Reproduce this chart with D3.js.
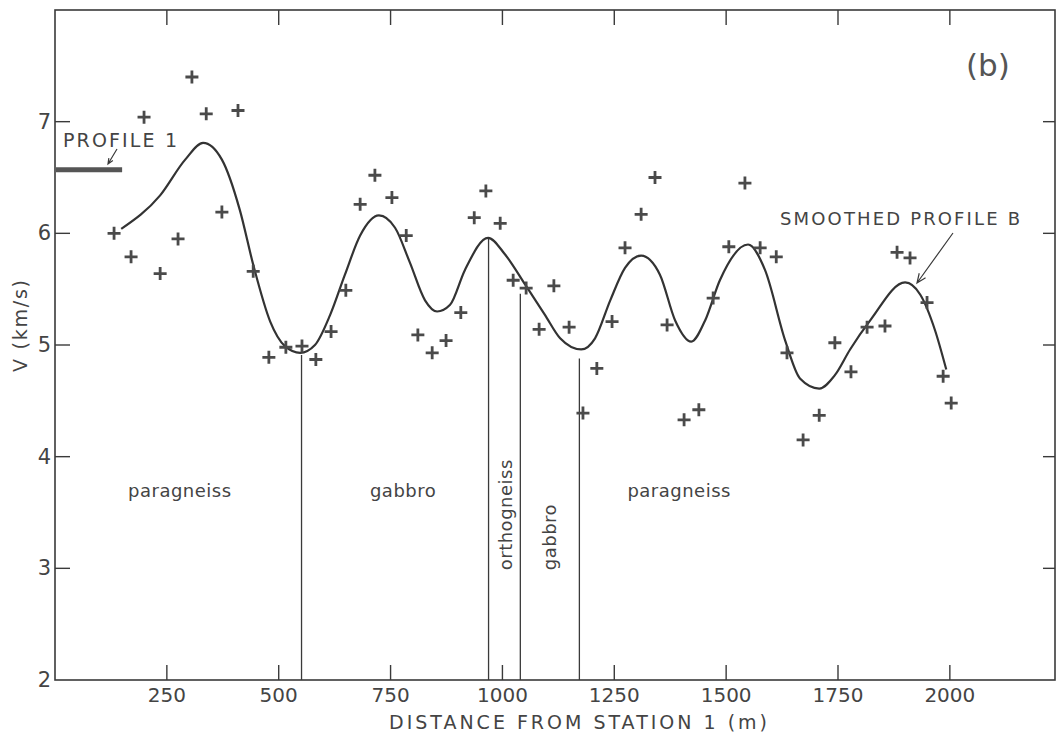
<!DOCTYPE html>
<html lang="en">
<head>
  <meta charset="UTF-8">
  <title>Velocity profile B</title>
  <style>
    body { margin: 0; background: #fff; }
    text { font-family: "DejaVu Sans", sans-serif; fill: #444; }
  </style>
</head>
<body>
  <svg id="svg" width="1057" height="741"></svg>

  <script src="https://d3js.org/d3.v7.min.js"></script>
  <script>
    // measured velocities (distance m, V km/s)
    const obsDist = [132, 170, 235, 275, 306, 199, 338, 409, 373, 443, 478, 516, 552, 583, 617, 650,
      682, 715, 753, 785, 811, 843, 874, 907, 937, 963, 995, 1024, 1053, 1082, 1115, 1149,
      1180, 1211, 1245, 1274, 1310, 1341, 1368, 1406, 1439, 1471, 1506, 1542, 1576, 1612,
      1636, 1672, 1708, 1743, 1779, 1815, 1855, 1882, 1911, 1949, 1985, 2003]
    const obsV = [6.00, 5.79, 5.64, 5.95, 7.40, 7.04, 7.07, 7.10, 6.19, 5.66, 4.89, 4.98, 4.99, 4.87, 5.12, 5.49,
      6.26, 6.52, 6.32, 5.98, 5.09, 4.93, 5.04, 5.29, 6.14, 6.38, 6.09, 5.58, 5.51, 5.14, 5.53, 5.16,
      4.39, 4.79, 5.21, 5.87, 6.17, 6.50, 5.18, 4.33, 4.42, 5.42, 5.88, 6.45, 5.87, 5.79,
      4.93, 4.15, 4.37, 5.02, 4.76, 5.16, 5.17, 5.83, 5.78, 5.38, 4.72, 4.48]

    // smoothed profile B
    const smoothDist = [148, 235, 291, 331, 373, 413, 443, 481, 514, 548, 581, 615, 648, 682, 724, 760,
      793, 827, 854, 883, 916, 968, 1006, 1051, 1095, 1129, 1176, 1207, 1241, 1274, 1310, 1352,
      1386, 1422, 1453, 1486, 1549, 1587, 1632, 1665, 1708, 1743, 1777, 1822, 1900, 1934, 1967, 1992]
    const smoothV = [6.04, 6.34, 6.66, 6.81, 6.66, 6.21, 5.72, 5.21, 4.99, 4.93, 5.00, 5.27, 5.63, 5.98, 6.16, 6.05,
      5.74, 5.40, 5.30, 5.36, 5.67, 5.96, 5.81, 5.54, 5.27, 5.06, 4.96, 5.06, 5.40, 5.69, 5.80, 5.63,
      5.22, 5.03, 5.22, 5.58, 5.90, 5.67, 5.04, 4.70, 4.61, 4.73, 4.96, 5.22, 5.56, 5.45, 5.13, 4.78]

    // rock unit contacts: distance and where the line starts (V)
    const contactDist = [551, 969, 1040, 1172]
    const contactTop = [4.91, 5.96, 5.46, 4.88]

    const rockNames = ["paragneiss", "gabbro", "orthogneiss", "gabbro", "paragneiss"]
    const rockDist = [279, 778, 1021, 1120, 1395]
    const rockV = [3.64, 3.64, 3.48, 3.28, 3.64]
    const rockVertical = [false, false, true, true, false]

    const profile1Dist = [0, 150]
    const profile1V = 6.57

    const xTicks = [250, 500, 750, 1000, 1250, 1500, 1750, 2000]
    const yTicks = [2, 3, 4, 5, 6, 7]

    const svg = d3.select("#svg")
    const ink = "#3a3a3a"

    const x = d3.scaleLinear().domain([0, 2235]).range([55, 1055])
    const y = d3.scaleLinear().domain([2, 8]).range([680, 10])

    // frame
    svg.append("rect")
      .attr("x", x(0)).attr("y", y(8))
      .attr("width", x(2235) - x(0)).attr("height", y(2) - y(8))
      .attr("fill", "none").attr("stroke", ink).attr("stroke-width", 1.6)

    // inward ticks on all four sides
    const tickLen = 15
    svg.append("g").selectAll("line").data(xTicks).enter().append("line")
      .attr("x1", d => x(d)).attr("x2", d => x(d))
      .attr("y1", y(2)).attr("y2", y(2) - tickLen)
      .attr("stroke", ink).attr("stroke-width", 1.4)
    svg.append("g").selectAll("line").data(xTicks).enter().append("line")
      .attr("x1", d => x(d)).attr("x2", d => x(d))
      .attr("y1", y(8)).attr("y2", y(8) + tickLen)
      .attr("stroke", ink).attr("stroke-width", 1.4)
    svg.append("g").selectAll("line").data(yTicks.slice(1)).enter().append("line")
      .attr("x1", x(0)).attr("x2", x(0) + tickLen)
      .attr("y1", d => y(d)).attr("y2", d => y(d))
      .attr("stroke", ink).attr("stroke-width", 1.4)
    svg.append("g").selectAll("line").data(yTicks.slice(1)).enter().append("line")
      .attr("x1", x(2235)).attr("x2", x(2235) - 12)
      .attr("y1", d => y(d)).attr("y2", d => y(d))
      .attr("stroke", ink).attr("stroke-width", 1.4)

    // tick labels
    svg.append("g").selectAll("text").data(xTicks).enter().append("text")
      .text(d => d)
      .attr("x", d => x(d)).attr("y", 702)
      .attr("text-anchor", "middle")
      .style("font-size", "20px")
    svg.append("g").selectAll("text").data(yTicks).enter().append("text")
      .text(d => d)
      .attr("x", 51).attr("y", d => y(d) + 7)
      .attr("text-anchor", "end")
      .style("font-size", "21px")

    // axis titles
    svg.append("text")
      .text("DISTANCE FROM STATION 1 (m)")
      .attr("x", 578).attr("y", 729)
      .attr("text-anchor", "middle")
      .attr("textLength", 378).attr("lengthAdjust", "spacing")
      .style("font-size", "19px")
    svg.append("text")
      .text("V (km/s)")
      .attr("transform", "translate(27,326) rotate(-90)")
      .attr("text-anchor", "middle")
      .attr("textLength", 92).attr("lengthAdjust", "spacing")
      .style("font-size", "19px")

    // contacts between rock units
    svg.append("g").selectAll("line").data(contactDist).enter().append("line")
      .attr("x1", d => x(d)).attr("x2", d => x(d))
      .attr("y1", (d, i) => y(contactTop[i])).attr("y2", y(2))
      .attr("stroke", ink).attr("stroke-width", 1.3)

    // rock names
    svg.append("g").selectAll("text").data(rockNames).enter().append("text")
      .text(d => d)
      .attr("transform", (d, i) => `translate(${x(rockDist[i])},${y(rockV[i])})` + (rockVertical[i] ? " rotate(-90)" : ""))
      .attr("text-anchor", "middle")
      .style("font-size", "18px")
      .style("letter-spacing", "0.5px")

    // smoothed curve
    const line = d3.line()
      .x(d => x(d[0]))
      .y(d => y(d[1]))
      .curve(d3.curveMonotoneX)
    svg.append("path")
      .attr("d", line(d3.zip(smoothDist, smoothV)))
      .attr("fill", "none")
      .attr("stroke", "#333")
      .attr("stroke-width", 2.2)

    // crosses
    const arm = 6.5
    svg.append("g").selectAll("path").data(d3.zip(obsDist, obsV)).enter().append("path")
      .attr("d", d => {
        const cx = x(d[0]), cy = y(d[1])
        return `M${cx - arm},${cy}H${cx + arm}M${cx},${cy - arm}V${cy + arm}`
      })
      .attr("stroke", "#4a4a4a")
      .attr("stroke-width", 2.8)

    // profile 1 bar
    svg.append("line")
      .attr("x1", x(profile1Dist[0]) + 1).attr("x2", x(profile1Dist[1]))
      .attr("y1", y(profile1V)).attr("y2", y(profile1V))
      .attr("stroke", "#555").attr("stroke-width", 5)
    svg.append("text")
      .text("PROFILE 1")
      .attr("x", 63).attr("y", 147)
      .attr("textLength", 114).attr("lengthAdjust", "spacing")
      .style("font-size", "19px")

    // small arrows
    function arrow(x1, y1, x2, y2, head) {
      const a = Math.atan2(y2 - y1, x2 - x1)
      const p = d3.path()
      p.moveTo(x1, y1); p.lineTo(x2, y2)
      p.moveTo(x2 - head * Math.cos(a - 0.4), y2 - head * Math.sin(a - 0.4))
      p.lineTo(x2, y2)
      p.lineTo(x2 - head * Math.cos(a + 0.4), y2 - head * Math.sin(a + 0.4))
      svg.append("path").attr("d", p.toString())
        .attr("fill", "none").attr("stroke", ink).attr("stroke-width", 1.2)
    }
    arrow(117, 149, 108, 164, 6)
    arrow(953, 233, 917, 283, 10)

    svg.append("text")
      .text("SMOOTHED PROFILE B")
      .attr("x", 780).attr("y", 225)
      .attr("textLength", 240).attr("lengthAdjust", "spacing")
      .style("font-size", "18px")

    svg.append("text")
      .text("(b)")
      .attr("x", 966).attr("y", 76)
      .style("font-size", "31px")
      .style("fill", "#555")
  </script>
</body>
</html>
